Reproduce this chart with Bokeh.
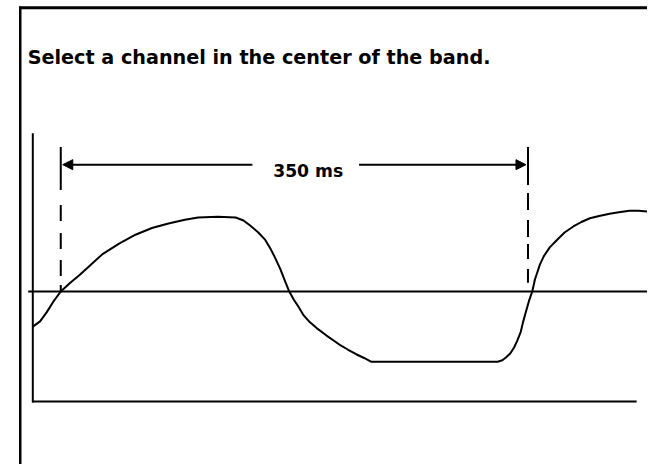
from bokeh.plotting import figure
from bokeh.models import Range1d, Arrow, NormalHead
from bokeh.core.properties import value
from bokeh.embed import file_html
from bokeh.resources import INLINE

# ---------------- data (time in ms, amplitude in relative units) ----------------
title_text = "Select a channel in the center of the band."
span_label = "350 ms"
span_start_ms = 0.0
span_end_ms = 350.0

wave_t = [-20.9, -15.5, -10.6, -5.7, 0.0, 6.7, 14.1, 21.5, 31.3, 43.7, 56.0, 68.3,
          80.7, 93.0, 102.9, 117.7, 131.0, 136.9, 142.1, 148.0, 153.2, 156.9,
          160.6, 164.5, 168.0, 170.9, 174.6, 178.3, 182.0, 186.5, 191.7, 199.1,
          208.7, 215.3, 221.3, 227.2, 232.4, 327.3, 330.8, 333.7, 336.7, 339.6,
          341.9, 344.6, 346.3, 348.3, 350.7, 353.2, 355.2, 356.9, 358.9, 361.8,
          366.3, 371.7, 377.4, 384.0, 390.0, 396.4, 403.3, 411.2, 418.1, 426.0,
          432.9, 439.5]
wave_a = [-0.47, -0.40, -0.28, -0.14, 0.0, 0.11, 0.22, 0.34, 0.50, 0.64, 0.76, 0.85,
          0.91, 0.96, 0.99, 1.00, 0.99, 0.95, 0.88, 0.79, 0.69, 0.58,
          0.45, 0.30, 0.14, 0.01, -0.11, -0.21, -0.32, -0.41, -0.49, -0.59,
          -0.71, -0.78, -0.84, -0.89, -0.94, -0.94, -0.92, -0.88, -0.83, -0.75,
          -0.66, -0.54, -0.41, -0.28, -0.13, 0.0, 0.16, 0.25, 0.36, 0.47,
          0.59, 0.69, 0.79, 0.87, 0.93, 0.98, 1.01, 1.04, 1.06, 1.08,
          1.08, 1.07]

# ---------------- layout helpers (pixel anchors of the 655x472 drawing) ----------------
PX_PER_MS = 473.0 / 350.0
PX_PER_UNIT = 76.0
X0_PX, Y0_PX = 61.0, 296.0      # drawing pixel of t=0, a=0
DRAW_W, DRAW_H = 655, 472


def tx(px):
    return (px - X0_PX) / PX_PER_MS


def ay(py):
    return (Y0_PX - py) / PX_PER_UNIT


W, H = 647, 464
p = figure(width=W, height=H, output_backend="svg", toolbar_location=None,
           x_range=Range1d(tx(0), tx(DRAW_W)), y_range=Range1d(ay(DRAW_H), ay(0)),
           x_axis_type=None, y_axis_type=None, min_border=0,
           outline_line_color=None, background_fill_color="white",
           border_fill_color="white")
p.grid.visible = False

black = "black"

# frame borders (left and top)
p.line([tx(20), tx(20)], [ay(6), ay(DRAW_H)], line_color=black, line_width=2.5)
p.line([tx(19), tx(DRAW_W)], [ay(7.5), ay(7.5)], line_color=black, line_width=3)

# axes of the diagram
p.line([tx(32.7), tx(32.7)], [ay(135), ay(409)], line_color=black, line_width=2)
p.line([tx(32), tx(644)], [ay(408), ay(408)], line_color=black, line_width=2)
# zero line
p.line([tx(28), tx(DRAW_W)], [0, 0], line_color=black, line_width=2)

# dashed markers at the start and end of the span
p.line([span_start_ms, span_start_ms], [ay(149), ay(297)], line_color=black,
       line_width=2, line_dash="43 15 16 12 16 11 16 9 16")
p.line([span_end_ms, span_end_ms], [ay(149), ay(287)], line_color=black,
       line_width=2, line_dash="38 8 17 10 17 7 15 10 17")

# dimension arrows
arrow_a = ay(167)
p.add_layout(Arrow(x_start=tx(255), y_start=arrow_a, x_end=span_start_ms + 1.5, y_end=arrow_a,
                   line_color=black, line_width=2,
                   end=NormalHead(size=10, fill_color=black, line_color=black, line_width=1)))
p.add_layout(Arrow(x_start=tx(363), y_start=arrow_a, x_end=span_end_ms - 1.5, y_end=arrow_a,
                   line_color=black, line_width=2,
                   end=NormalHead(size=10, fill_color=black, line_color=black, line_width=1)))

p.text(x=[tx(311.5)], y=[ay(173)], text=[span_label],
       text_font=value("DejaVu Sans"), text_font_style="bold", text_font_size="17.2px",
       text_align="center", text_baseline="alphabetic", text_color=black)

# waveform
p.line(wave_t, wave_a, line_color=black, line_width=2, line_join="round")

# title
p.text(x=[tx(27.5)], y=[ay(58)], text=[title_text],
       text_font=value("DejaVu Sans"), text_font_style="bold", text_font_size="19.2px",
       text_align="left", text_baseline="alphabetic", text_color=black)

open("out.html", "w").write(file_html(p, INLINE))
